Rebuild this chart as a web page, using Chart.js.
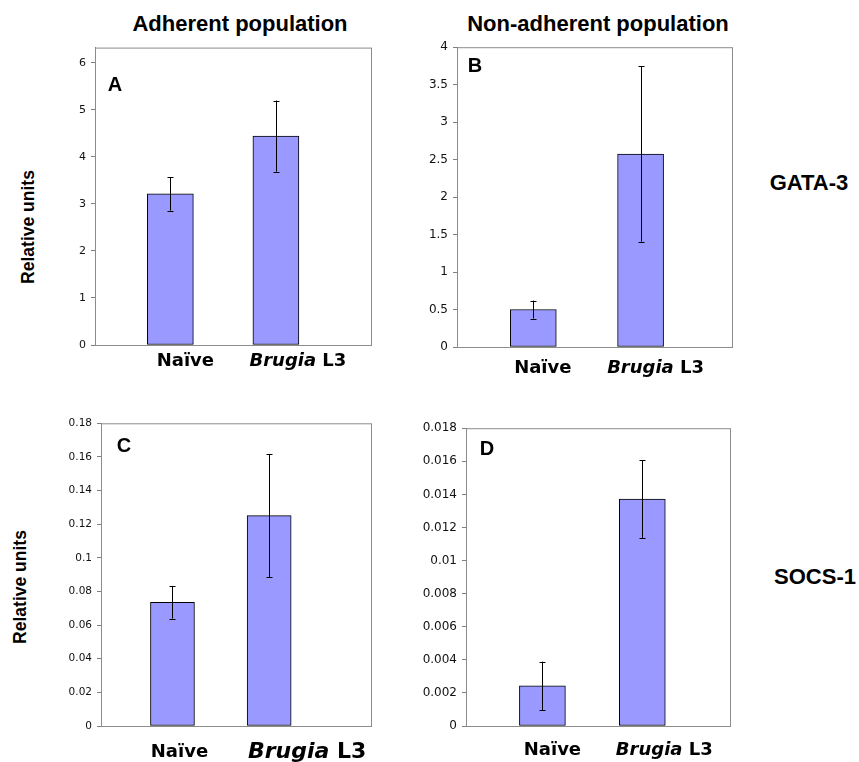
<!DOCTYPE html>
<html lang="en">
<head>
<meta charset="UTF-8" />
<title>GATA-3 / SOCS-1 relative units</title>
<script src="https://cdn.jsdelivr.net/npm/chart.js"></script>
<style>
  body { margin: 0; width: 859px; height: 762px; background: #fff; position: relative; overflow: hidden;
         font-family: "Liberation Sans", Arial, sans-serif; }
  canvas { position: absolute; }
  .lbl { position: absolute; font-weight: bold; white-space: nowrap; color: #000;
         transform: translate(-50%, -50%); }
  .rot { transform: translate(-50%, -50%) rotate(-90deg); }
</style>
</head>
<body>
  <div class="lbl" style="left:240px; top:24px; font-size:22px;">Adherent population</div>
  <div class="lbl" style="left:598px; top:24px; font-size:22px;">Non-adherent population</div>
  <div class="lbl" style="left:809px; top:183px; font-size:22px;">GATA-3</div>
  <div class="lbl" style="left:815px; top:577px; font-size:22px;">SOCS-1</div>
  <div class="lbl rot" style="left:28px; top:227px; font-size:17.5px;">Relative units</div>
  <div class="lbl rot" style="left:20px; top:587px; font-size:17.5px;">Relative units</div>

  <!-- A: GATA-3 adherent -->
  <canvas id="chartA" width="341" height="349" style="left:35px; top:36px;"></canvas>
  <!-- B: GATA-3 non-adherent -->
  <canvas id="chartB" width="340" height="352" style="left:397px; top:35px;"></canvas>
  <!-- C: SOCS-1 adherent -->
  <canvas id="chartC" width="335" height="354" style="left:41px; top:412px;"></canvas>
  <!-- D: SOCS-1 non-adherent -->
  <canvas id="chartD" width="329" height="350" style="left:406px; top:416px;"></canvas>

<script>
  // data
  var categories = ['Naïve', 'Brugia L3'];

  var gataAdherent = [3.21, 4.44];
  var gataAdherentErr = [0.355, 0.755];

  var gataNonAdherent = [0.50, 2.575];
  var gataNonAdherentErr = [0.12, 1.17];

  var socsAdherent = [0.0736, 0.1251];
  var socsAdherentErr = [0.0097, 0.0365];

  var socsNonAdherent = [0.00243, 0.01371];
  var socsNonAdherentErr = [0.00146, 0.00234];

  // frame, error bars, panel letter and the x labels (italic "Brugia")
  var panelDecor = {
    id: 'panelDecor',
    beforeDatasetsDraw: function (chart) {
      var a = chart.chartArea, ctx = chart.ctx;
      ctx.save();
      ctx.strokeStyle = '#8c8c8c';
      ctx.lineWidth = 1;
      ctx.strokeRect(a.left + 0.5, a.top + 0.5, a.right - a.left, a.bottom - a.top);
      ctx.restore();
    },
    afterDatasetsDraw: function (chart, args, opts) {
      var ctx = chart.ctx, a = chart.chartArea;
      var xs = chart.scales.x, ys = chart.scales.y;
      ctx.save();
      // error bars
      ctx.strokeStyle = '#000';
      ctx.lineWidth = 1;
      opts.values.forEach(function (v, i) {
        var px = Math.round(xs.getPixelForValue(i)) + 0.5;
        var top = ys.getPixelForValue(v + opts.errors[i]);
        var bot = ys.getPixelForValue(v - opts.errors[i]);
        ctx.beginPath();
        ctx.moveTo(px, top); ctx.lineTo(px, bot);
        ctx.moveTo(px - 3, Math.round(top) + 0.5); ctx.lineTo(px + 3, Math.round(top) + 0.5);
        ctx.moveTo(px - 3, Math.round(bot) + 0.5); ctx.lineTo(px + 3, Math.round(bot) + 0.5);
        ctx.stroke();
      });
      // panel letter
      ctx.fillStyle = '#000';
      ctx.font = 'bold 20px "Liberation Sans", Arial, sans-serif';
      ctx.textAlign = 'center';
      ctx.textBaseline = 'middle';
      ctx.fillText(opts.letter, a.left + opts.letterPos[0], a.top + opts.letterPos[1]);
      // category labels
      var ly = a.bottom + opts.labelDrop;
      categories.forEach(function (name, i) {
        var cx = xs.getPixelForValue(i) + opts.labelShift[i];
        var size = opts.labelSize[i];
        var bold = 'bold ' + size + 'px "DejaVu Sans", Verdana, sans-serif';
        var boldItalic = 'italic bold ' + size + 'px "DejaVu Sans", Verdana, sans-serif';
        ctx.textAlign = 'left';
        if (name.indexOf('Brugia') === 0) {
          var rest = name.slice('Brugia'.length);
          ctx.font = boldItalic;
          var w1 = ctx.measureText('Brugia').width;
          ctx.font = bold;
          var w2 = ctx.measureText(rest).width;
          var x0 = cx - (w1 + w2) / 2;
          ctx.font = boldItalic;
          ctx.fillText('Brugia', x0, ly);
          ctx.font = bold;
          ctx.fillText(rest, x0 + w1, ly);
        } else {
          ctx.font = bold;
          ctx.fillText(name, cx - ctx.measureText(name).width / 2, ly);
        }
      });
      ctx.restore();
    }
  };

  function makePanel(canvasId, values, errors, yMax, yStep, look) {
    var points = values.map(function (v, i) { return { x: i, y: v }; });
    new Chart(document.getElementById(canvasId), {
      type: 'bar',
      data: {
        datasets: [{
          data: points,
          backgroundColor: '#9999ff',
          borderColor: '#000',
          borderWidth: 1,
          borderSkipped: false,
          barThickness: look.barWidth
        }]
      },
      options: {
        responsive: false,
        animation: false,
        layout: { padding: { left: 0, top: 10, right: 5, bottom: 40 } },
        plugins: {
          legend: { display: false },
          tooltip: { enabled: false },
          panelDecor: {
            values: values, errors: errors, letter: look.letter, letterPos: look.letterPos,
            labelShift: look.labelShift, labelDrop: look.labelDrop, labelSize: look.labelSize
          }
        },
        scales: {
          x: { type: 'linear', display: false, offset: false, min: look.xMin, max: look.xMax },
          y: {
            min: 0,
            max: yMax,
            grid: { display: true, drawOnChartArea: false, drawTicks: true, tickLength: 4, color: '#808080' },
            border: { display: true, color: '#808080' },
            ticks: {
              stepSize: yStep,
              includeBounds: false,
              padding: 5,
              color: '#111',
              font: { family: '"DejaVu Sans", Verdana, sans-serif', size: look.tickSize },
              callback: function (v) { return String(+v.toFixed(6)); }
            },
            afterFit: function (s) { s.width = 60; }
          }
        }
      },
      plugins: [panelDecor]
    });
  }

  makePanel('chartA', gataAdherent, gataAdherentErr, 6.32, 1, {
    letter: 'A', letterPos: [20, 38], xMin: -0.714, xMax: 1.901, barWidth: 46, tickSize: 11,
    labelShift: [15, 22], labelDrop: 16, labelSize: [18, 18]
  });
  makePanel('chartB', gataNonAdherent, gataNonAdherentErr, 4, 0.5, {
    letter: 'B', letterPos: [18, 19], xMin: -0.711, xMax: 1.852, barWidth: 46, tickSize: 12,
    labelShift: [9.5, 15], labelDrop: 21, labelSize: [18, 18]
  });
  makePanel('chartC', socsAdherent, socsAdherentErr, 0.18, 0.02, {
    letter: 'C', letterPos: [23, 23], xMin: -0.739, xMax: 2.053, barWidth: 44, tickSize: 10.5,
    labelShift: [7, 38], labelDrop: 26, labelSize: [18, 22]
  });
  makePanel('chartD', socsNonAdherent, socsNonAdherentErr, 0.018, 0.002, {
    letter: 'D', letterPos: [21, 21], xMin: -0.765, xMax: 1.878, barWidth: 46, tickSize: 12,
    labelShift: [10, 22], labelDrop: 24, labelSize: [18, 18]
  });
</script>
</body>
</html>
